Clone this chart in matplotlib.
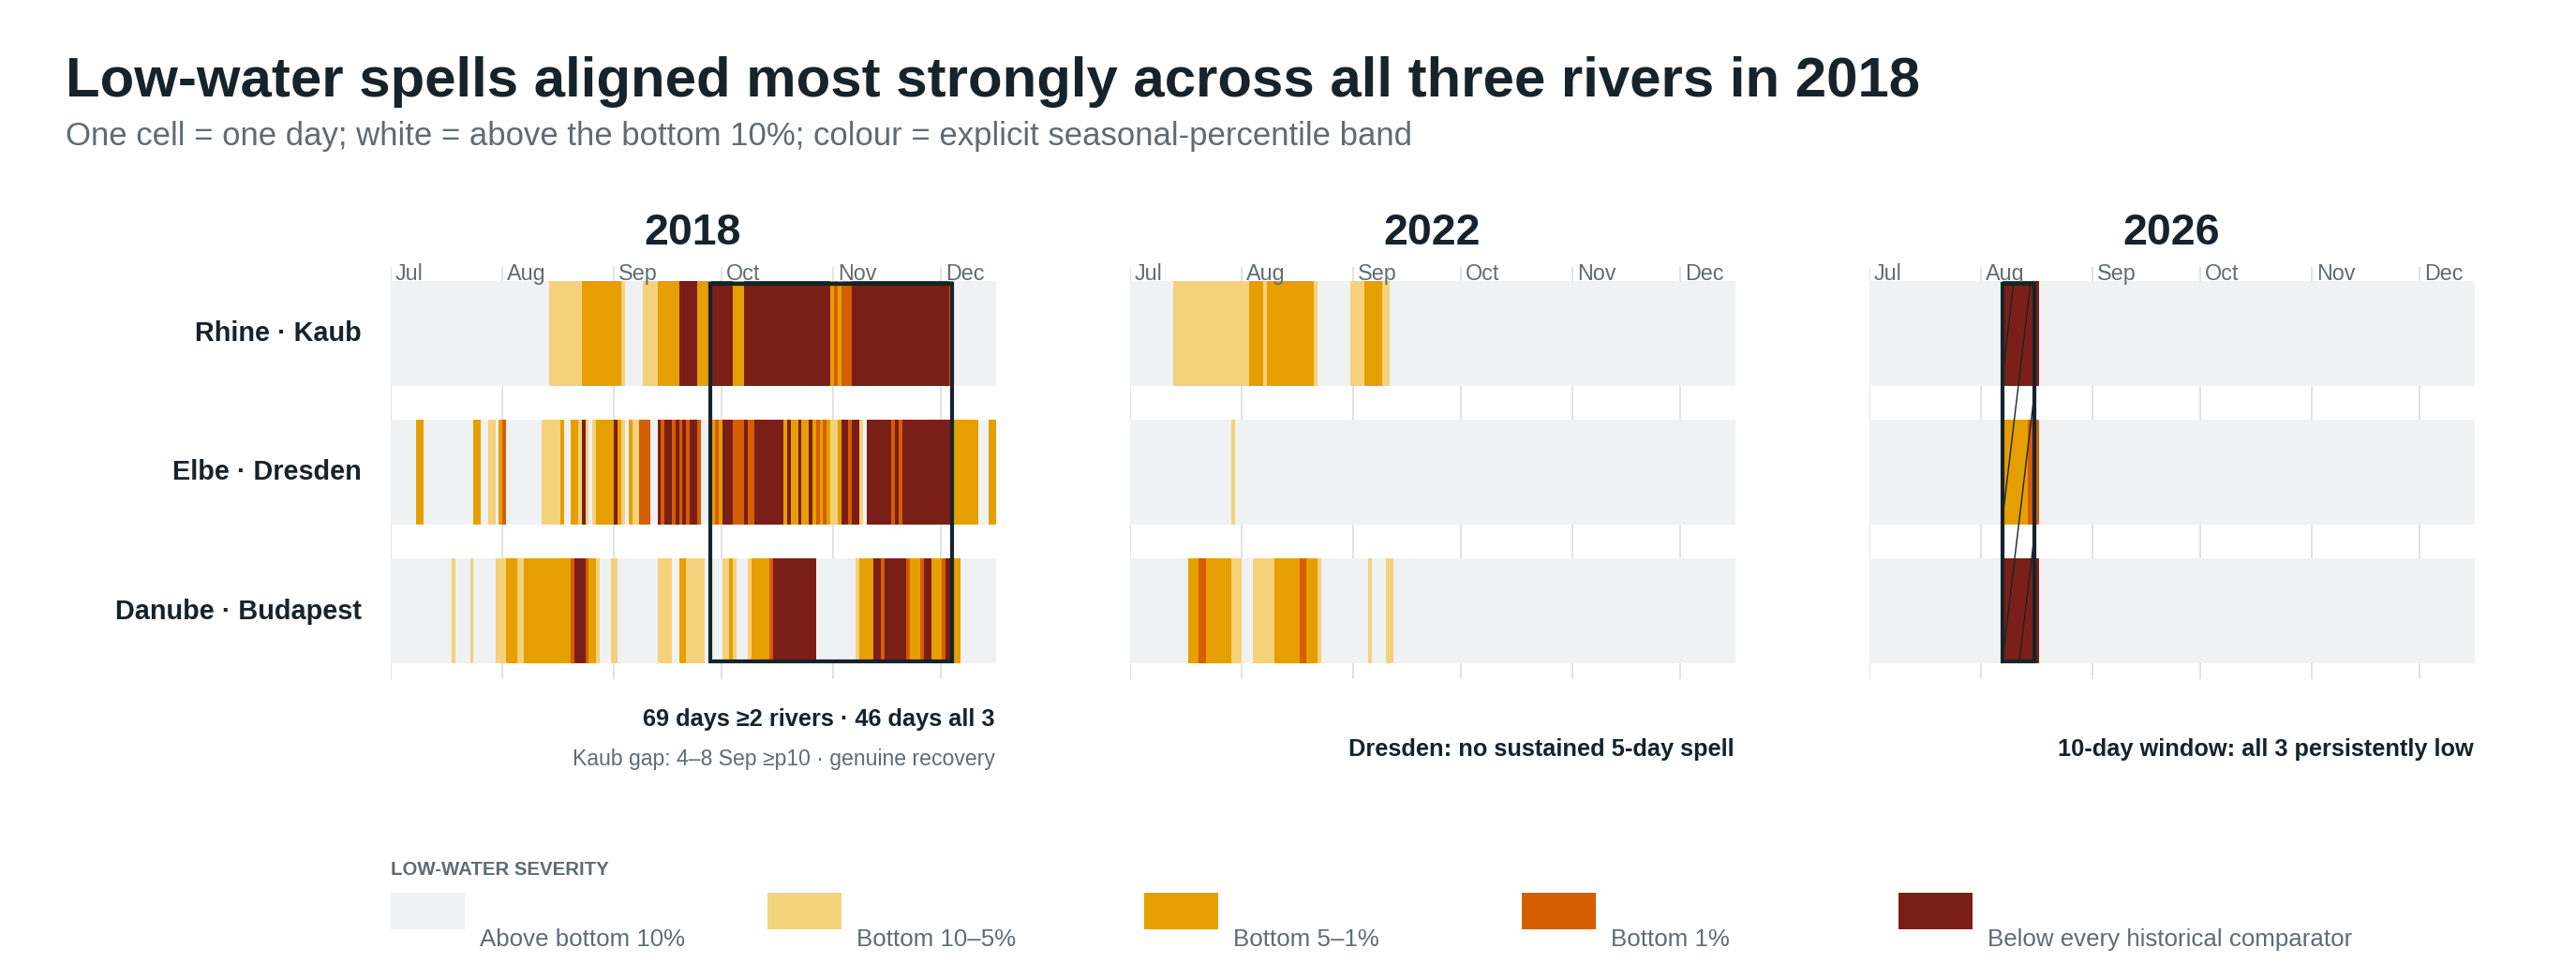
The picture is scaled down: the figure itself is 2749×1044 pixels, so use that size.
import numpy as np
import pandas as pd
import matplotlib
matplotlib.use("Agg")
import matplotlib.pyplot as plt
from matplotlib.colors import ListedColormap
from matplotlib.patches import Rectangle

plt.rcParams["font.family"] = ["Liberation Sans", "DejaVu Sans"]

INK = "#17232b"
MUTED = "#5f6b73"
GRID = "#d9dde2"

YEARS = [2018, 2022, 2026]
RIVERS = ["Rhine · Kaub", "Elbe · Dresden", "Danube · Budapest"]
DAYS = pd.date_range("2018-07-01", "2018-12-15")  # one cell per day, 1 Jul - 15 Dec

LEVEL_LABELS = ["Above bottom 10%", "Bottom 10–5%", "Bottom 5–1%", "Bottom 1%",
                "Below every historical comparator"]
LEVEL_COLORS = ["#f0f1f3", "#f4d17b", "#e69f00", "#d55e00", "#7a1f17"]

# low-water runs per river: (first day, last day, level), day 0 = 1 Jul
rhine_2018 = [(44, 52, 1), (53, 63, 2), (64, 64, 1), (70, 73, 1), (74, 79, 2), (80, 84, 4),
              (85, 88, 2), (89, 94, 4), (95, 97, 2), (98, 121, 4), (122, 122, 2), (123, 123, 3),
              (124, 124, 2), (125, 127, 3), (128, 154, 4), (155, 155, 3)]
elbe_2018 = [(7, 8, 2), (23, 24, 2), (27, 28, 1), (30, 30, 2), (31, 31, 3), (42, 46, 1),
             (47, 47, 2), (50, 51, 2), (52, 52, 1), (53, 53, 4), (54, 54, 1), (56, 56, 1),
             (57, 61, 2), (62, 62, 4), (63, 63, 2), (64, 64, 1), (66, 66, 2), (67, 68, 1),
             (69, 71, 3), (74, 74, 4), (75, 75, 3), (76, 77, 4), (78, 78, 3), (79, 79, 4),
             (80, 80, 3), (81, 81, 4), (82, 82, 3), (83, 84, 4), (85, 85, 3), (89, 89, 2),
             (90, 90, 3), (91, 91, 2), (92, 94, 4), (95, 97, 3), (98, 98, 4), (99, 100, 3),
             (101, 108, 4), (109, 109, 2), (110, 110, 4), (111, 112, 2), (113, 113, 4),
             (114, 115, 2), (116, 116, 4), (117, 117, 2), (118, 118, 3), (119, 119, 2),
             (120, 120, 3), (121, 121, 2), (122, 123, 1), (124, 124, 2), (125, 126, 4),
             (127, 127, 3), (128, 129, 4), (130, 130, 1), (132, 138, 4), (139, 139, 3),
             (140, 140, 4), (141, 141, 3), (142, 155, 4), (156, 162, 2), (166, 167, 2)]
danube_2018 = [(17, 17, 1), (22, 22, 1), (29, 31, 1), (32, 34, 2), (35, 36, 1), (37, 49, 2),
               (50, 50, 3), (51, 53, 4), (54, 54, 3), (55, 56, 2), (57, 57, 1), (61, 62, 1),
               (74, 77, 1), (80, 81, 2), (82, 86, 1), (92, 93, 1), (94, 94, 2), (95, 95, 1),
               (99, 99, 1), (100, 104, 2), (105, 105, 3), (106, 117, 4), (129, 129, 1),
               (130, 133, 2), (134, 135, 4), (136, 136, 3), (137, 142, 4), (143, 143, 3),
               (144, 146, 2), (147, 147, 3), (148, 149, 4), (150, 152, 2), (153, 153, 3),
               (154, 155, 4), (156, 157, 2)]

rhine_2022 = [(12, 32, 1), (33, 36, 2), (37, 37, 1), (38, 50, 2), (51, 51, 1), (61, 64, 1),
              (65, 69, 2), (70, 71, 1)]
elbe_2022 = [(28, 28, 1)]
danube_2022 = [(16, 18, 2), (19, 20, 3), (21, 27, 2), (28, 30, 1), (34, 39, 1), (40, 46, 2),
               (47, 48, 3), (49, 51, 2), (52, 52, 1), (66, 66, 1), (71, 72, 1)]

rhine_2026 = [(37, 46, 4)]
elbe_2026 = [(37, 43, 2), (44, 46, 3)]
danube_2026 = [(37, 46, 4)]

SEVERITY = {
    2018: [rhine_2018, elbe_2018, danube_2018],
    2022: [rhine_2022, elbe_2022, danube_2022],
    2026: [rhine_2026, elbe_2026, danube_2026],
}

# highlighted windows (first day, last day)
WINDOWS = {2018: ("09-28", "12-04"), 2026: ("08-07", "08-16")}
HATCHED = [2026]

NOTES = {
    2018: ["69 days ≥2 rivers · 46 days all 3", "Kaub gap: 4–8 Sep ≥p10 · genuine recovery"],
    2022: ["Dresden: no sustained 5-day spell"],
    2026: ["10-day window: all 3 persistently low"],
}


def to_levels(runs):
    lv = np.zeros(len(DAYS), dtype=int)
    for a, b, level in runs:
        lv[a:b + 1] = level
    return lv


def day_index(mmdd):
    return DAYS.get_loc(pd.Timestamp("2018-" + mmdd))


# layout in pixels
W, H = 2749, 1044
PANEL_X = [416.6, 1205.7, 1994.8]
PANEL_W = 645.3
AX_TOP, AX_BOT = 285, 725
ROW0, PITCH = 356.2, 148.3
HALF = 0.375

month_starts = [i for i, d in enumerate(DAYS) if d.day == 1]
month_names = [DAYS[i].strftime("%b") for i in month_starts]
cmap = ListedColormap(LEVEL_COLORS)

fig = plt.figure(figsize=(W / 100, H / 100), dpi=100)
fig.patch.set_facecolor("white")

for j, year in enumerate(YEARS):
    ax = fig.add_axes([PANEL_X[j] / W, 1 - AX_BOT / H, PANEL_W / W, (AX_BOT - AX_TOP) / H])
    y_top = (AX_TOP - ROW0) / PITCH
    y_bot = (AX_BOT - ROW0) / PITCH
    ax.vlines(month_starts, y_top, y_bot, color=GRID, lw=1.2, zorder=0)
    for i, runs in enumerate(SEVERITY[year]):
        ax.imshow(to_levels(runs)[None, :], cmap=cmap, vmin=-0.5, vmax=4.5,
                  extent=[0, len(DAYS), i + HALF, i - HALF], aspect="auto",
                  interpolation="nearest", zorder=1)
    ax.set_xlim(0, len(DAYS))
    ax.set_ylim(y_bot, y_top)
    ax.axis("off")

    for ms, name in zip(month_starts, month_names):
        ax.annotate(name, (ms, -HALF), xytext=(3.6, 1.2), textcoords="offset points",
                    fontsize=16.8, color=MUTED, ha="left", va="baseline", annotation_clip=False)

    if year in WINDOWS:
        x0, x1 = (day_index(d) for d in WINDOWS[year])
        inset = 2.6 / PITCH
        y0, y1 = -HALF + inset, len(RIVERS) - 1 + HALF - inset
        if year in HATCHED:
            clip = Rectangle((x0, y0), x1 - x0, y1 - y0, facecolor="none", edgecolor="none")
            ax.add_patch(clip)
            lean, gap = 4.6, 4.7
            for k in range(-8, 10):
                xb = x0 + k * gap
                ln, = ax.plot([xb, xb + lean * (y1 - y0)], [y1, y0], color=INK, lw=1.0, zorder=5)
                ln.set_clip_path(clip)
        ax.add_patch(Rectangle((x0, y0), x1 - x0, y1 - y0, fill=False, edgecolor=INK,
                               lw=3.0, zorder=6))

# figure-level text and legend drawn in pixel space
ov = fig.add_axes([0, 0, 1, 1])
ov.set_xlim(0, W)
ov.set_ylim(H, 0)
ov.axis("off")
ov.patch.set_visible(False)

ov.text(70, 102.7, "Low-water spells aligned most strongly across all three rivers in 2018",
        fontsize=43.1, fontweight="bold", color=INK, va="baseline")
ov.text(70, 155, "One cell = one day; white = above the bottom 10%; colour = explicit "
        "seasonal-percentile band", fontsize=25, color=MUTED, va="baseline")

for j, year in enumerate(YEARS):
    ov.text(PANEL_X[j] + PANEL_W / 2, 260.7, str(year), fontsize=33.5, fontweight="bold",
            color=INK, ha="center", va="baseline")

for i, river in enumerate(RIVERS):
    ov.text(386, ROW0 + i * PITCH, river, fontsize=20.8, fontweight="bold", color=INK,
            ha="right", va="center")

right0 = PANEL_X[0] + PANEL_W
ov.text(right0, 775, NOTES[2018][0], fontsize=18.3, fontweight="bold", color=INK,
        ha="right", va="baseline")
ov.text(right0, 817, NOTES[2018][1], fontsize=16.6, color=MUTED, ha="right", va="baseline")
for j, year in enumerate(YEARS[1:], start=1):
    ov.text(PANEL_X[j] + PANEL_W, 807, NOTES[year][0], fontsize=18.3, fontweight="bold",
            color=INK, ha="right", va="baseline")

ov.text(PANEL_X[0], 934, "LOW-WATER SEVERITY", fontsize=14.7, fontweight="bold", color=MUTED,
        va="baseline")
for k, (label, col) in enumerate(zip(LEVEL_LABELS, LEVEL_COLORS)):
    sx = PANEL_X[0] + k * 402.4
    ov.add_patch(Rectangle((sx, 952.7), 79, 39, facecolor=col, edgecolor="none"))
    ov.text(sx + 95, 1010, label, fontsize=18.6, color=MUTED, va="baseline")

fig.savefig("out.png", dpi=100, facecolor="white")
